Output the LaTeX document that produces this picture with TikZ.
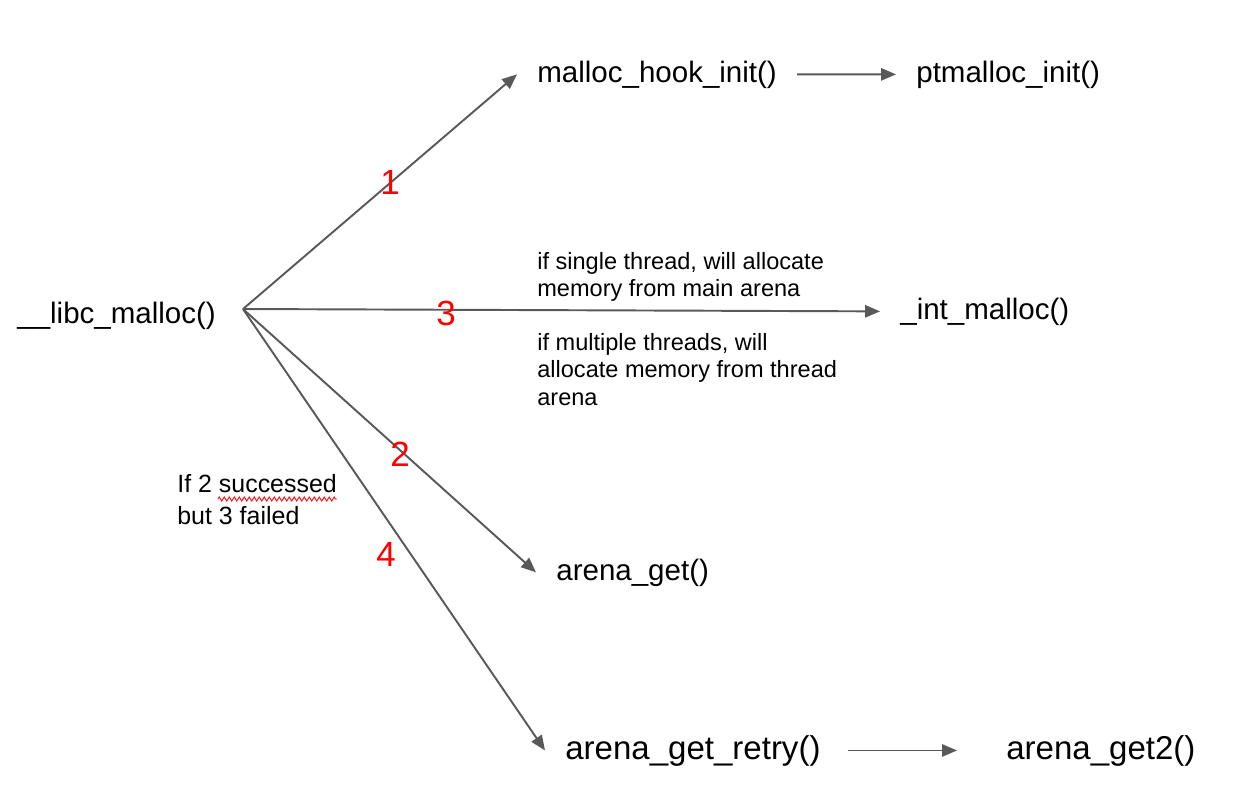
\documentclass[tikz,border=0pt]{standalone}
\usepackage{fontspec}
\setmainfont{Liberation Sans}
\usetikzlibrary{arrows.meta,decorations.pathmorphing}
\definecolor{linegray}{RGB}{89,89,89}
\definecolor{numred}{RGB}{255,0,0}
\tikzset{
  fn/.style={text=black,inner xsep=0.4cm,inner ysep=0pt,font=\fontsize{16.8}{20}\selectfont},
  fnbig/.style={fn,font=\fontsize{18.8}{22}\selectfont},
  note/.style={text=black,inner sep=0pt,align=left,font=\fontsize{13.4}{15.6}\selectfont},
  num/.style={text=numred,inner sep=0pt,font=\fontsize{19.9}{22}\selectfont},
  call/.style={draw=linegray,line width=1.1pt,-{Triangle[length=8.5pt,width=7pt]}}
}
\begin{document}
\begin{tikzpicture}[x=0.02cm,y=-0.02cm]
\useasboundingbox (0,0) rectangle (1238,806);

% functions:
\path (17,323) node[fn,anchor=base west,inner xsep=0pt] (libc) {\_\_libc\_malloc()};
\path (517,82) node[fn,anchor=base west] (hook) {malloc\_hook\_init()};
\path (896,82) node[fn,anchor=base west] (ptm) {ptmalloc\_init()};
\path (880,319) node[fn,anchor=base west] (int) {\_int\_malloc()};
\path (536,580) node[fn,anchor=base west] (get) {arena\_get()};
\path (545,759) node[fnbig,anchor=base west] (retry) {arena\_get\_retry()};
\path (986,759) node[fnbig,anchor=base west] (get2) {arena\_get2()};

% calls:
\coordinate (fork) at (243,309);
\draw[call] (fork) -- (hook.west);
\draw[call] (fork) -- (int.west);
\draw[call] (fork) -- (get.west);
\draw[call] (fork) -- (retry.west);
\draw[call] (hook.east) -- (ptm.west);
\draw[call,shorten <=0.14cm,shorten >=0.58cm] (retry.east) -- (get2.west);

% step numbers:
\path (390,182) node[num] (n1) {1};
\path (446,313) node[num] (n3) {3};
\path (400,454) node[num] (n2) {2};
\path (386,554) node[num] (n4) {4};

% notes:
\path (537,252) node[note,anchor=north west] (single) {if single thread, will allocate\\memory from main arena};
\path (537,333) node[note,anchor=north west] (multi) {if multiple threads, will\\allocate memory from thread\\arena};
\path (177,474) node[note,anchor=north west,font=\fontsize{14.2}{18.2}\selectfont] (failnote) {If 2 successed\\but 3 failed};
\draw[numred,line width=0.5pt,decorate,decoration={zigzag,amplitude=0.04cm,segment length=0.1cm}] (218,499) -- (337,499);

\end{tikzpicture}
\end{document}
